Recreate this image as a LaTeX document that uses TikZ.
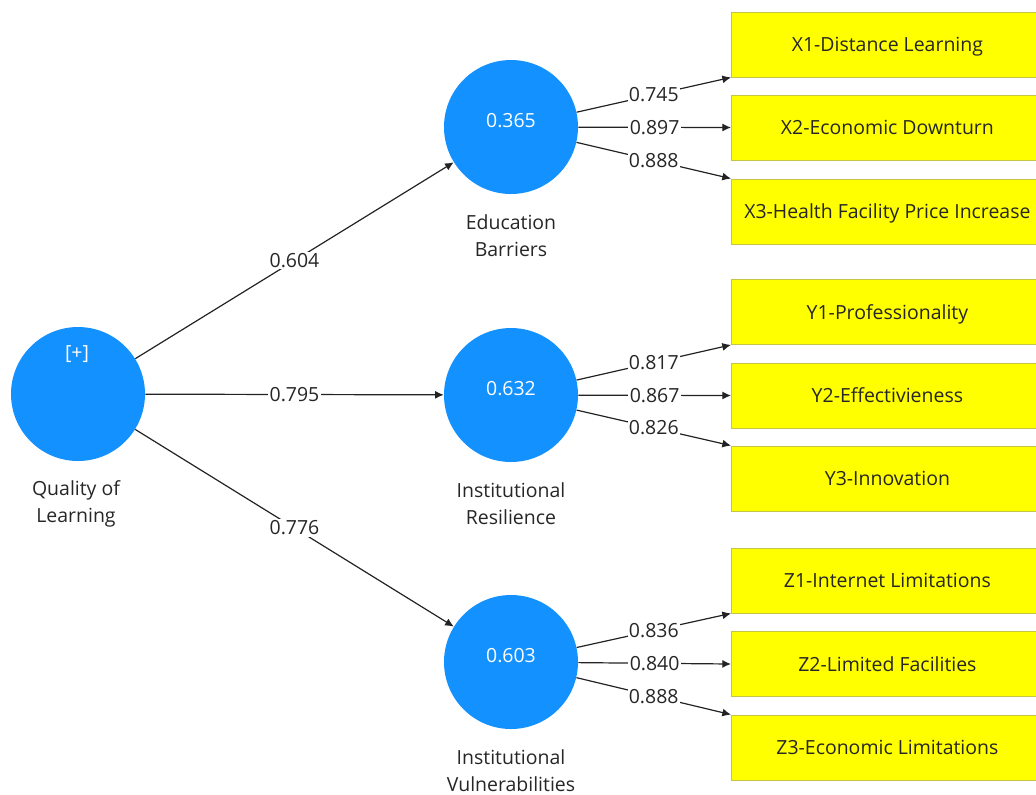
\documentclass[tikz,border=0pt]{standalone}
\usepackage{fontspec}
\setmainfont{Open Sans}
\usetikzlibrary{arrows.meta}
\definecolor{lvblue}{RGB}{19,145,255}
\definecolor{indfill}{RGB}{255,255,0}
\definecolor{indborder}{RGB}{196,196,70}
\definecolor{linec}{RGB}{35,35,35}
\begin{document}
\begin{tikzpicture}[x=0.75pt,y=-0.75pt,
  every node/.style={font=\fontsize{14.6}{20.25}\selectfont, text=black!85},
  latent/.style={circle, fill=lvblue, minimum size=100.5pt, inner sep=0pt},
  valtext/.style={text=white, inner sep=0pt},
  indbox/.style={rectangle, fill=indfill, draw=indborder, line width=0.6pt, minimum width=234pt, minimum height=48.75pt, anchor=west, inner sep=0pt, text height=11pt, text depth=0pt},
  lbl/.style={fill=white, inner sep=1pt},
  captext/.style={align=center},
  conn/.style={draw=linec, line width=0.9pt, -{Latex[length=6.5pt,width=6pt]}}
]
\useasboundingbox (0,0) rectangle (1036,794);
\clip (0,0) rectangle (1036,794);

% latent variables
\node[latent] (Q) at (78,394) {};
\node[latent] (EB) at (511,127) {};
\node[latent] (IR) at (511,395) {};
\node[latent] (IV) at (511,662) {};
\node[valtext] (Qplus) at (77,354) {[+]};
\node[valtext] (EBv) at (511,121) {0.365};
\node[valtext] (IRv) at (511,389) {0.632};
\node[valtext] (IVv) at (511,656) {0.603};

% captions
\node[captext] (Qcap) at (76,504) {Quality of\\Learning};
\node[captext] (EBcap) at (511,236) {Education\\Barriers};
\node[captext] (IRcap) at (511,504) {Institutional\\Resilience};
\node[captext] (IVcap) at (511,771) {Institutional\\Vulnerabilities};

% indicators
\node[indbox] (X1) at (731,44.5) {X1-Distance Learning};
\node[indbox] (X2) at (731,127.5) {X2-Economic Downturn};
\node[indbox] (X3) at (731,211.5) {X3-Health Facility Price Increase};
\node[indbox] (Y1) at (731,312) {Y1-Professionality};
\node[indbox] (Y2) at (731,395.5) {Y2-Effectivieness};
\node[indbox] (Y3) at (731,478.5) {Y3-Innovation};
\node[indbox] (Z1) at (731,580.5) {Z1-Internet Limitations};
\node[indbox] (Z2) at (731,664) {Z2-Limited Facilities};
\node[indbox] (Z3) at (731,747.5) {Z3-Economic Limitations};

% structural paths
\draw[conn] (Q) -- node[lbl] {0.604} (EB);
\draw[conn] (Q) -- node[lbl] {0.795} (IR);
\draw[conn] (Q) -- node[lbl] {0.776} (IV);

% outer loadings
\draw[conn] (EB) -- node[lbl] {0.745} (X1.south west);
\draw[conn] (EB) -- node[lbl] {0.897} (X2.west);
\draw[conn] (EB) -- node[lbl] {0.888} (X3.north west);
\draw[conn] (IR) -- node[lbl] {0.817} (Y1.south west);
\draw[conn] (IR) -- node[lbl] {0.867} (Y2.west);
\draw[conn] (IR) -- node[lbl] {0.826} (Y3.north west);
\draw[conn] (IV) -- node[lbl] {0.836} (Z1.south west);
\draw[conn] (IV) -- node[lbl] {0.840} (Z2.west);
\draw[conn] (IV) -- node[lbl] {0.888} (Z3.north west);
\end{tikzpicture}
\end{document}
